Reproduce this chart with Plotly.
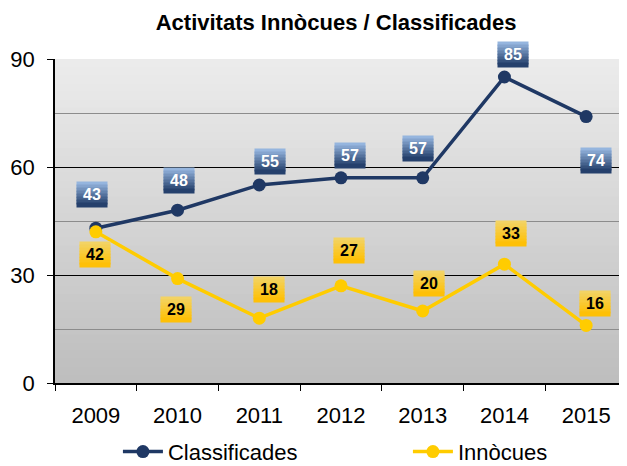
import plotly.graph_objects as go

years = ["2009", "2010", "2011", "2012", "2013", "2014", "2015"]
classificades = [43, 48, 55, 57, 57, 85, 74]
innocues = [42, 29, 18, 27, 20, 33, 16]

# label offsets in pixels (dx, dy) relative to the point
offs_classif = [(-4, -34), (1, -30), (11, -24), (9, -22), (-5, -29), (9, -23), (10, 44)]
offs_innoc = [(-1, 23), (-2, 31), (10, -29), (8, -35), (6, -28), (7, -31), (9, -22)]

NAVY = "#1f3864"
YELLOW = "#ffcc00"
FONT = "Liberation Sans"


def mix(c1, c2, t):
    a = [int(c1[i:i + 2], 16) for i in (1, 3, 5)]
    b = [int(c2[i:i + 2], 16) for i in (1, 3, 5)]
    return "#%02x%02x%02x" % tuple(round(a[k] + (b[k] - a[k]) * t) for k in range(3))


fig = go.Figure()

fig.add_trace(go.Scatter(name="Classificades", x=years, y=classificades, mode="lines+markers",
                         line=dict(color=NAVY, width=3.5), marker=dict(size=13, color=NAVY),
                         legend="legend"))
fig.add_trace(go.Scatter(name="Innòcues", x=years, y=innocues, mode="lines+markers",
                         line=dict(color=YELLOW, width=3.5), marker=dict(size=13, color=YELLOW),
                         legend="legend2"))

shapes = []
# plot area gradient background (strips overlap a little to avoid seams)
n = 40
for i in range(n):
    shapes.append(dict(type="rect", xref="paper", yref="paper", x0=0, x1=1,
                       y0=i / n, y1=min(1, (i + 1) / n + 0.01), layer="below", line_width=0,
                       fillcolor=mix("#bdbdbd", "#ececec", (i + 0.5) / n)))


def add_label(idx, y, dx, dy, top, bottom, txtcol):
    w, h = 30, 24
    strips = 8
    sh = h / strips
    for k in range(strips):
        t = (k + 0.5) / strips
        fig.add_annotation(x=idx, y=y, xref="x", yref="y", text=" ", showarrow=False,
                           width=w, height=sh + 0.6, borderpad=0, font=dict(size=1),
                           bgcolor=mix(top, bottom, t),
                           xshift=dx, yshift=-dy + h / 2 - (k + 0.5) * sh)
    fig.add_annotation(x=idx, y=y, xref="x", yref="y", text=str(y), showarrow=False,
                       xshift=dx, yshift=-dy, font=dict(family=FONT, size=16, color=txtcol, weight="bold"))


for i, (v, (dx, dy)) in enumerate(zip(classificades, offs_classif)):
    add_label(i, v, dx, dy, "#9dbde6", "#1d3864", "white")
for i, (v, (dx, dy)) in enumerate(zip(innocues, offs_innoc)):
    add_label(i, v, dx, dy, "#f2d46a", "#ffbf00", "black")

leg = dict(orientation="h", yref="container", y=0.031, yanchor="middle", xanchor="left",
           font=dict(size=22), itemwidth=40, bgcolor="rgba(0,0,0,0)")

# page body adds an 8px offset, so the figure is sized 8px smaller
fig.update_layout(
    width=619, height=458,
    margin=dict(l=47, r=0, t=51, b=83),
    paper_bgcolor="white", plot_bgcolor="rgba(0,0,0,0)",
    font=dict(family=FONT, size=22, color="black"),
    title=dict(text="<b>Activitats Innòcues / Classificades</b>", x=0.53, xanchor="center",
               xref="container", y=0.969, yanchor="middle", font=dict(size=22, color="black")),
    shapes=shapes,
    legend=dict(leg, x=0.11),
    legend2=dict(leg, x=0.617),
    showlegend=True,
)

fig.update_xaxes(type="category", range=[-0.5, 6.5], showline=True, linecolor="black", linewidth=1.5,
                 ticks="outside", tickson="boundaries", ticklen=6, tickcolor="black",
                 ticklabelstandoff=12, showgrid=False, tickangle=0, automargin=False)
fig.update_yaxes(range=[0, 90], tickvals=[0, 30, 60, 90], showline=True, linecolor="black",
                 linewidth=1.5, ticks="outside", ticklen=6, tickcolor="black",
                 showgrid=True, gridcolor="black", gridwidth=1, zeroline=False,
                 ticklabelstandoff=8, automargin=False,
                 minor=dict(tickvals=[15, 45, 75], showgrid=True, gridcolor="#8c8c8c", gridwidth=1, ticks=""))

fig.write_html("out.html")
